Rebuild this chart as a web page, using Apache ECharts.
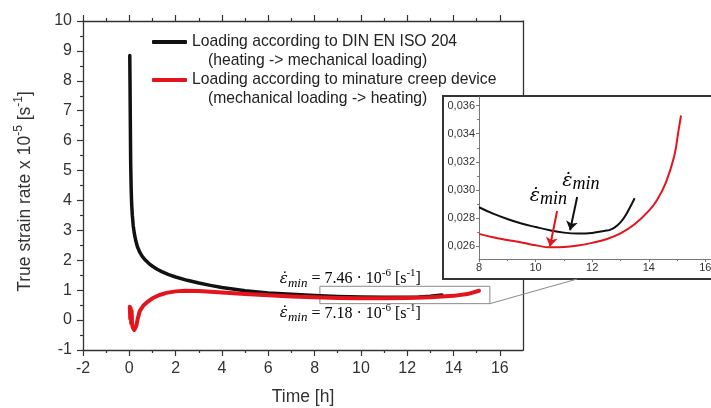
<!DOCTYPE html>
<html>
<head>
<meta charset="utf-8">
<script src="https://cdn.jsdelivr.net/npm/echarts@6/dist/echarts.min.js"></script>
<style>html,body{margin:0;padding:0;background:#fff}#c{width:711px;height:408px}</style>
</head>
<body>
<div id="c"></div>
<script>
// ---- data ----
const timeBlack = [0.02, 0.03, 0.04, 0.05, 0.06, 0.08, 0.1, 0.13, 0.17, 0.22, 0.28, 0.35, 0.45, 0.55, 0.7, 0.85, 1.0, 1.2, 1.4, 1.7, 2, 2.5, 3, 3.5, 4, 5, 6, 7, 8, 9, 10, 11, 12, 12.5, 13, 13.5];
const rateBlack = [8.85, 8.0, 7.0, 6.0, 5.2, 4.4, 3.9, 3.5, 3.15, 2.88, 2.65, 2.45, 2.27, 2.14, 2.0, 1.89, 1.8, 1.7, 1.62, 1.52, 1.44, 1.33, 1.24, 1.16, 1.09, 0.98, 0.91, 0.86, 0.82, 0.79, 0.77, 0.76, 0.76, 0.77, 0.8, 0.84];
const timeRed = [0.02, 0.04, 0.06, 0.08, 0.1, 0.12, 0.15, 0.18, 0.21, 0.25, 0.3, 0.35, 0.45, 0.6, 0.8, 1.0, 1.3, 1.6, 2.0, 2.4, 3, 4, 5, 6, 7, 8, 9, 10, 11, 12, 13, 14, 14.6, 15.1];
const rateRed = [0.45, 0.05, 0.4, -0.1, 0.3, -0.15, -0.25, -0.3, -0.33, -0.33, -0.2, 0.0, 0.3, 0.48, 0.62, 0.73, 0.84, 0.91, 0.96, 0.98, 0.97, 0.92, 0.87, 0.83, 0.79, 0.76, 0.74, 0.73, 0.73, 0.74, 0.76, 0.81, 0.87, 0.98];
const insetTimeBlack = [8, 8.5, 9, 9.5, 10, 10.5, 11, 11.5, 12, 12.5, 12.6, 12.8, 13.0, 13.2, 13.5];
const insetRateBlack = [0.02876, 0.0283, 0.02792, 0.0276, 0.02735, 0.02712, 0.02695, 0.02688, 0.02693, 0.0271, 0.02713, 0.02733, 0.02768, 0.02825, 0.0294];
const insetTimeRed = [8, 8.5, 9, 9.5, 10, 10.5, 11, 11.5, 12, 12.5, 13, 13.5, 14, 14.3, 14.6, 14.9, 15.05, 15.14];
const insetRateRed = [0.02686, 0.02662, 0.02643, 0.02625, 0.02605, 0.0259, 0.02592, 0.02603, 0.02622, 0.02648, 0.0269, 0.02755, 0.0285, 0.0293, 0.0305, 0.0324, 0.0342, 0.0353];
const xTicks = [-2, 0, 2, 4, 6, 8, 10, 12, 14, 16];
const xMinorTicks = [-1, 1, 3, 5, 7, 9, 11, 13, 15];
const yTicks = [-1, 0, 1, 2, 3, 4, 5, 6, 7, 8, 9, 10];
const yMinorTicks = [-0.5, 0.5, 1.5, 2.5, 3.5, 4.5, 5.5, 6.5, 7.5, 8.5, 9.5];
const insetXTicks = [8, 10, 12, 14, 16];
const insetXMinorTicks = [9, 11, 13, 15];
const insetYTicks = [0.026, 0.028, 0.030, 0.032, 0.034, 0.036];
const insetYMinorTicks = [0.027, 0.029, 0.031, 0.033, 0.035];
const seriesNames = ['Loading according to DIN EN ISO 204', 'Loading according to minature creep device'];
const seriesSubNames = ['(heating -> mechanical loading)', '(mechanical loading -> heating)'];

const BLACK = '#111111', RED = '#e3141c', AX = '#333333';
const SANS = 'Liberation Sans', SERIF = 'Liberation Serif';
const zip = (a, b) => a.map((v, i) => [v, b[i]]);

const chart = echarts.init(document.getElementById('c'), null, {renderer: 'canvas'});

function mainX(pos, ticks, len, extra) {
  return Object.assign({
    gridIndex: 0, type: 'value', min: -2, max: 17, position: pos,
    axisLine: {show: true, onZero: false, lineStyle: {color: AX, width: 1.3}},
    axisTick: {show: true, inside: false, length: len, customValues: ticks, lineStyle: {color: AX, width: 1.2}},
    axisLabel: {show: false}, splitLine: {show: false}
  }, extra || {});
}
function mainY(pos, ticks, len, extra) {
  return Object.assign({
    gridIndex: 0, type: 'value', min: -1, max: 10, position: pos,
    axisLine: {show: true, onZero: false, lineStyle: {color: AX, width: 1.3}},
    axisTick: {show: ticks !== null, inside: false, length: len, customValues: ticks || [], lineStyle: {color: AX, width: 1.2}},
    axisLabel: {show: false}, splitLine: {show: false}
  }, extra || {});
}
const labelStyle = {fontFamily: SANS, fontSize: 16, color: AX};
const titleStyle = {fontFamily: SANS, fontSize: 17.5, color: AX};
const insetLabel = {fontFamily: SANS, fontSize: 11, color: AX};

const option = {
  animation: false,
  backgroundColor: '#fff',
  grid: [
    {left: 83, top: 21, width: 440, height: 329, outerBoundsMode: 'none', containLabel: false},
    {left: 479, top: 97, width: 232, height: 162, z: 100, outerBoundsMode: 'none', containLabel: false}
  ],
  legend: {
    left: 152, top: 15, padding: 0, orient: 'vertical', itemWidth: 35, itemHeight: 4, itemGap: -16,
    icon: 'roundRect', selectedMode: false, data: seriesNames,
    formatter: name => {
      const i = seriesNames.indexOf(name);
      return '{a| }\n{a|' + name + '}\n{b|' + seriesSubNames[i] + '}';
    },
    textStyle: {rich: {
      a: {fontFamily: SANS, fontSize: 15.7, lineHeight: 19, color: '#222'},
      b: {fontFamily: SANS, fontSize: 15.7, lineHeight: 19, color: '#222', padding: [0, 0, 0, 16]}
    }}
  },
  xAxis: [
    mainX('bottom', xTicks, 6, {
      axisLabel: Object.assign({show: true, customValues: xTicks, margin: 11}, labelStyle),
      name: 'Time [h]', nameLocation: 'middle', nameGap: 38, nameTextStyle: titleStyle
    }),
    mainX('bottom', xMinorTicks, 3, {axisLine: {show: false, onZero: false}}),
    mainX('top', xTicks, 6),
    mainX('top', xMinorTicks, 3, {axisLine: {show: false, onZero: false}}),
    {
      gridIndex: 1, type: 'value', min: 8, max: 16.2, position: 'bottom', z: 100,
      axisLine: {show: true, onZero: false, lineStyle: {color: '#777', width: 1}},
      axisTick: {show: true, length: 3, customValues: insetXTicks, lineStyle: {color: '#777'}},
      axisLabel: Object.assign({customValues: insetXTicks, margin: 3}, insetLabel),
      splitLine: {show: false}
    },
    {
      gridIndex: 1, type: 'value', min: 8, max: 16.2, position: 'bottom', z: 100,
      axisLine: {show: false, onZero: false},
      axisTick: {show: true, length: 2, customValues: insetXMinorTicks, lineStyle: {color: '#777'}},
      axisLabel: {show: false}, splitLine: {show: false}
    }
  ],
  yAxis: [
    mainY('left', yTicks, 6, {
      axisLabel: Object.assign({show: true, customValues: yTicks, margin: 11}, labelStyle),
      name: '{t|True strain rate x 10}{s|-5}{t| [s}{s|-1}{t|]}',
      nameLocation: 'middle', nameGap: 49, nameRotate: 90,
      nameTextStyle: {padding: [0, 12, 0, 0], rich: {
        t: {fontFamily: SANS, fontSize: 17.5, color: AX, lineHeight: 21, verticalAlign: 'bottom'},
        s: {fontFamily: SANS, fontSize: 12, color: AX, lineHeight: 12, verticalAlign: 'top'}
      }}
    }),
    mainY('left', yMinorTicks, 3, {axisLine: {show: false, onZero: false}}),
    mainY('right', null, 0),
    {
      gridIndex: 1, type: 'value', min: 0.02507, max: 0.03662, position: 'left', z: 100,
      axisLine: {show: true, onZero: false, lineStyle: {color: '#777', width: 1}},
      axisTick: {show: true, length: 3, customValues: insetYTicks, lineStyle: {color: '#777'}},
      axisLabel: Object.assign({customValues: insetYTicks, margin: 4, formatter: v => v.toFixed(3).replace('.', ',')}, insetLabel),
      splitLine: {show: false}
    },
    {
      gridIndex: 1, type: 'value', min: 0.02507, max: 0.03662, position: 'left', z: 100,
      axisLine: {show: false, onZero: false},
      axisTick: {show: true, length: 2, customValues: insetYMinorTicks, lineStyle: {color: '#777'}},
      axisLabel: {show: false}, splitLine: {show: false}
    }
  ],
  series: [
    {
      name: seriesNames[0], type: 'line', xAxisIndex: 0, yAxisIndex: 0,
      data: zip(timeBlack, rateBlack), showSymbol: false, smooth: false,
      color: BLACK, lineStyle: {color: BLACK, width: 3.5, cap: 'round', join: 'round'},
      markArea: {silent: true, itemStyle: {color: 'rgba(0,0,0,0)', borderColor: '#8a8a8a', borderWidth: 1},
        data: [[{coord: [8.23, 1.13]}, {coord: [15.57, 0.55]}]]}
    },
    {
      name: seriesNames[1], type: 'line', xAxisIndex: 0, yAxisIndex: 0,
      data: zip(timeRed, rateRed), showSymbol: false, smooth: false,
      color: RED, lineStyle: {color: RED, width: 4, cap: 'round', join: 'round'}
    },
    {
      name: 'inset black', type: 'line', xAxisIndex: 4, yAxisIndex: 3, z: 100,
      data: zip(insetTimeBlack, insetRateBlack), showSymbol: false, smooth: 0.4,
      lineStyle: {color: BLACK, width: 2}, color: BLACK,
      markLine: {silent: true, z: 120, symbol: ['none', 'arrow'], symbolSize: 9, label: {show: false},
        lineStyle: {color: BLACK, width: 2, type: 'solid'},
        data: [[{coord: [11.47, 0.02949]}, {coord: [11.22, 0.02712]}]]}
    },
    {
      name: 'inset red', type: 'line', xAxisIndex: 4, yAxisIndex: 3, z: 100,
      data: zip(insetTimeRed, insetRateRed), showSymbol: false, smooth: 0.4,
      lineStyle: {color: RED, width: 2}, color: RED,
      markLine: {silent: true, z: 120, symbol: ['none', 'arrow'], symbolSize: 9, label: {show: false},
        lineStyle: {color: RED, width: 2, type: 'solid'},
        data: [[{coord: [10.76, 0.02849]}, {coord: [10.51, 0.02596]}]]}
    }
  ]
};
chart.setOption(option);

// ---- annotations positioned from the axes ----
const pm = v => chart.convertToPixel({seriesIndex: 0}, v);
const pi = v => chart.convertToPixel({seriesIndex: 2}, v);
const insetGrid = option.grid[1];
const boxL = insetGrid.left - 36, boxT = insetGrid.top - 1, boxB = insetGrid.top + insetGrid.height + 20;
const corner = pm([15.57, 0.55]);
const joinX = pi([11.47, 0.03])[0];

function epsRich(color, big) {
  return {
    e: {fontFamily: 'DejaVu Serif', fontStyle: 'italic', fontSize: big ? 19 : 15, color: color, lineHeight: big ? 24 : 22, verticalAlign: 'middle'},
    sub: {fontFamily: SERIF, fontStyle: 'italic', fontSize: big ? 18 : 13, color: color, lineHeight: big ? 18 : 13, verticalAlign: 'bottom'},
    t: {fontFamily: SERIF, fontSize: 16, color: color, lineHeight: 22, verticalAlign: 'middle'},
    sup: {fontFamily: SERIF, fontSize: 11, color: color, lineHeight: 11, verticalAlign: 'top'}
  };
}
const eps = 'ε\u0307';
const blackLabelPos = pm([6.5, 1.38]);
const redLabelPos = pm([6.5, 0.22]);
const insetBlackLabel = pi([11.6, 0.03063]);
const insetRedLabel = pi([10.45, 0.02956]);

chart.setOption({
  graphic: [
    {type: 'rect', z: 50, shape: {x: boxL, y: boxT, width: 320, height: boxB - boxT},
      style: {fill: '#fff', stroke: '#333', lineWidth: 2}},
    {type: 'line', z: 50, shape: {x1: corner[0], y1: corner[1], x2: joinX, y2: boxB},
      style: {stroke: '#8a8a8a', lineWidth: 1}},
    {type: 'text', z: 60, x: blackLabelPos[0], y: blackLabelPos[1],
      style: {text: '{e|' + eps + '}{sub|min}{t| = 7.46 · 10}{sup|-6}{t| [s}{sup|-1}{t|]}', rich: epsRich('#3a3a3a', false), align: 'left', verticalAlign: 'middle'}},
    {type: 'text', z: 60, x: redLabelPos[0], y: redLabelPos[1],
      style: {text: '{e|' + eps + '}{sub|min}{t| = 7.18 · 10}{sup|-6}{t| [s}{sup|-1}{t|]}', rich: epsRich(RED, false), align: 'left', verticalAlign: 'middle'}},
    {type: 'text', z: 160, x: insetBlackLabel[0], y: insetBlackLabel[1],
      style: {text: '{e|' + eps + '}{sub|min}', rich: epsRich('#111', true), align: 'center', verticalAlign: 'middle'}},
    {type: 'text', z: 160, x: insetRedLabel[0], y: insetRedLabel[1],
      style: {text: '{e|' + eps + '}{sub|min}', rich: epsRich(RED, true), align: 'center', verticalAlign: 'middle'}}
  ]
});
</script>
</body>
</html>
